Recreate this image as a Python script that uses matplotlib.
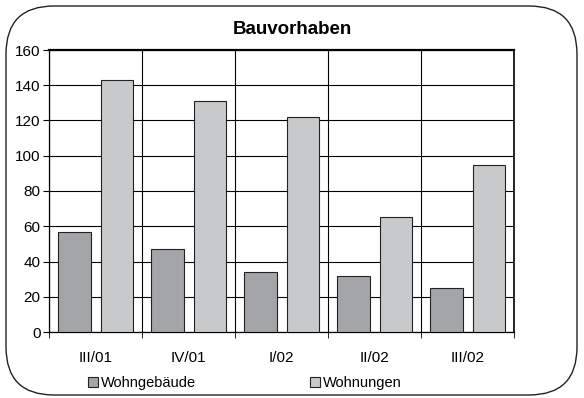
import matplotlib.pyplot as plt
import numpy as np
from matplotlib.patches import FancyBboxPatch

plt.rcParams['font.family'] = ['Liberation Sans', 'DejaVu Sans']

quartale = ["III/01", "IV/01", "I/02", "II/02", "III/02"]
wohngebaeude = [57, 47, 34, 32, 25]
wohnungen = [143, 131, 122, 65, 95]

dunkel = "#a4a5a9"
hell = "#c8c9cb"

fig = plt.figure(figsize=(5.84, 3.98), dpi=100)

# rounded outer frame, drawn in pixel units on a background axes
bg = fig.add_axes([0, 0, 1, 1])
bg.set_xlim(0, 584)
bg.set_ylim(0, 398)
bg.axis("off")
rahmen = FancyBboxPatch((6, 3), 571, 389, boxstyle="round,pad=0,rounding_size=48",
                        fc="white", ec="#222222", lw=1.0)
bg.add_patch(rahmen)

ax = fig.add_axes([49 / 584, 66 / 398, 465 / 584, 282 / 398])
ax.set_facecolor("white")

x = np.arange(len(quartale))
breite = 0.35
ax.bar(x - 0.225, wohngebaeude, breite, color=dunkel, edgecolor="#222222", lw=0.8,
       label="Wohngebäude", zorder=3)
ax.bar(x + 0.23, wohnungen, breite, color=hell, edgecolor="#222222", lw=0.8,
       label="Wohnungen", zorder=3)

ax.set_xlim(-0.5, len(quartale) - 0.5)
ax.set_ylim(0, 160)
ax.set_yticks(range(0, 161, 20))
ax.set_xticks(x)
ax.set_xticklabels(quartale)
ax.set_xticks(np.arange(-0.5, len(quartale), 1), minor=True)

ax.grid(axis="y", color="black", lw=0.8, zorder=0)
ax.grid(axis="x", which="minor", color="black", lw=0.8, zorder=0)
ax.tick_params(axis="x", which="major", length=0, pad=14, labelsize=11)
ax.tick_params(axis="x", which="minor", length=4, direction="out")
ax.tick_params(axis="y", length=4, direction="out", pad=2, labelsize=11)
for s in ax.spines.values():
    s.set_linewidth(0.9)
ax.spines["top"].set_linewidth(1.6)
ax.spines["right"].set_linewidth(1.2)

fig.text(0.5, 1 - 30 / 398, "Bauvorhaben", ha="center", va="center",
         fontsize=13.5, fontweight="bold")

fig.legend(loc="center left", bbox_to_anchor=(88 / 584, 1 - 383 / 398), ncol=2,
           frameon=False, fontsize=10.5, handlelength=0.7, handleheight=0.7,
           handletextpad=0.2, columnspacing=7.8, borderaxespad=0, borderpad=0)

fig.savefig("out.png", dpi=100)
